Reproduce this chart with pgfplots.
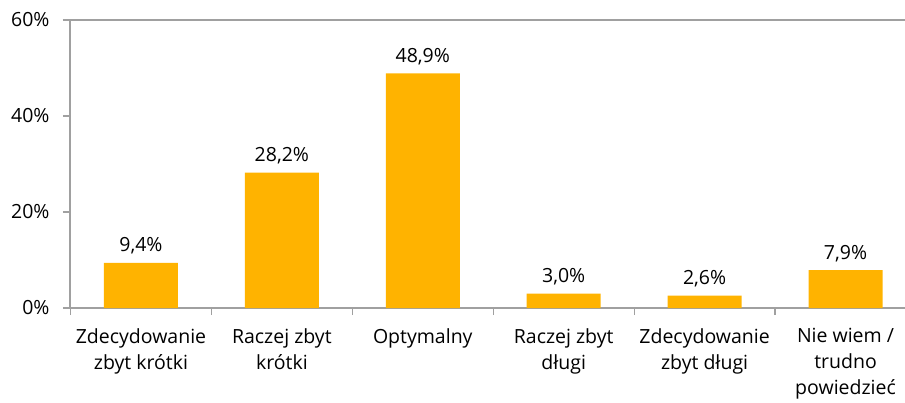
\documentclass[border=0pt]{standalone}
\usepackage{pgfplots}
\pgfplotsset{compat=1.18}
\usepackage{fontspec}
\setmainfont{Open Sans}
\definecolor{barc}{HTML}{FFB300}
\definecolor{axc}{HTML}{A0A0A0}
\newcommand{\lbl}{\fontsize{19.5bp}{26bp}\selectfont}
\begin{document}
\begin{tikzpicture}
\begin{axis}[name=ax, scale only axis, width=835bp, height=288bp,
  xmin=-0.5035, xmax=5.422, ymin=0, ymax=60,
  axis x line=bottom, axis y line=left,
  axis line style={-, axc, line width=1.3bp},
  xtick={-0.5,0.5,1.5,2.5,3.5,4.5}, xticklabels={},
  x tick style={axc, line width=1.3bp},
  y tick style={axc, line width=1.3bp},
  major tick length=7bp, tick align=outside,
  extra x ticks={0,1,2,3,4,5},
  extra x tick labels={{Zdecydowanie\\zbyt krótki},{Raczej zbyt\\krótki},{Optymalny},{Raczej zbyt\\długi},{Zdecydowanie\\zbyt długi},{Nie wiem /\\trudno\\powiedzieć}},
  extra x tick style={major tick length=0pt, tick style={draw=none}},
  xticklabel style={font=\lbl, align=center, anchor=north, yshift=-17bp},
  ytick={0,20,40,60},
  yticklabel={\pgfmathprintnumber{\tick}\%},
  yticklabel style={font=\lbl, xshift=-10bp},
  extra y ticks={60}, extra y tick labels={},
  extra y tick style={ymajorgrids=true, major grid style={axc, line width=1.3bp}},
  /pgf/number format/assume math mode=true,
  ybar, bar width=74bp,
  nodes near coords={\pgfmathprintnumber[use comma,fixed,fixed zerofill,precision=1,assume math mode=true]{\pgfplotspointmeta}\%},
  nodes near coords style={font=\lbl, text=black, anchor=south, yshift=5bp},
  clip=false,
]
\addplot[fill=barc, draw=none] coordinates {(0,9.4) (1,28.2) (2,48.9) (3,3.0) (4,2.6) (5,7.9)};
\end{axis}
\pgfresetboundingbox
\path[use as bounding box] ([xshift=-70bp,yshift=-95bp]ax.south west) rectangle ([yshift=20bp]ax.north east);
\end{tikzpicture}
\end{document}
